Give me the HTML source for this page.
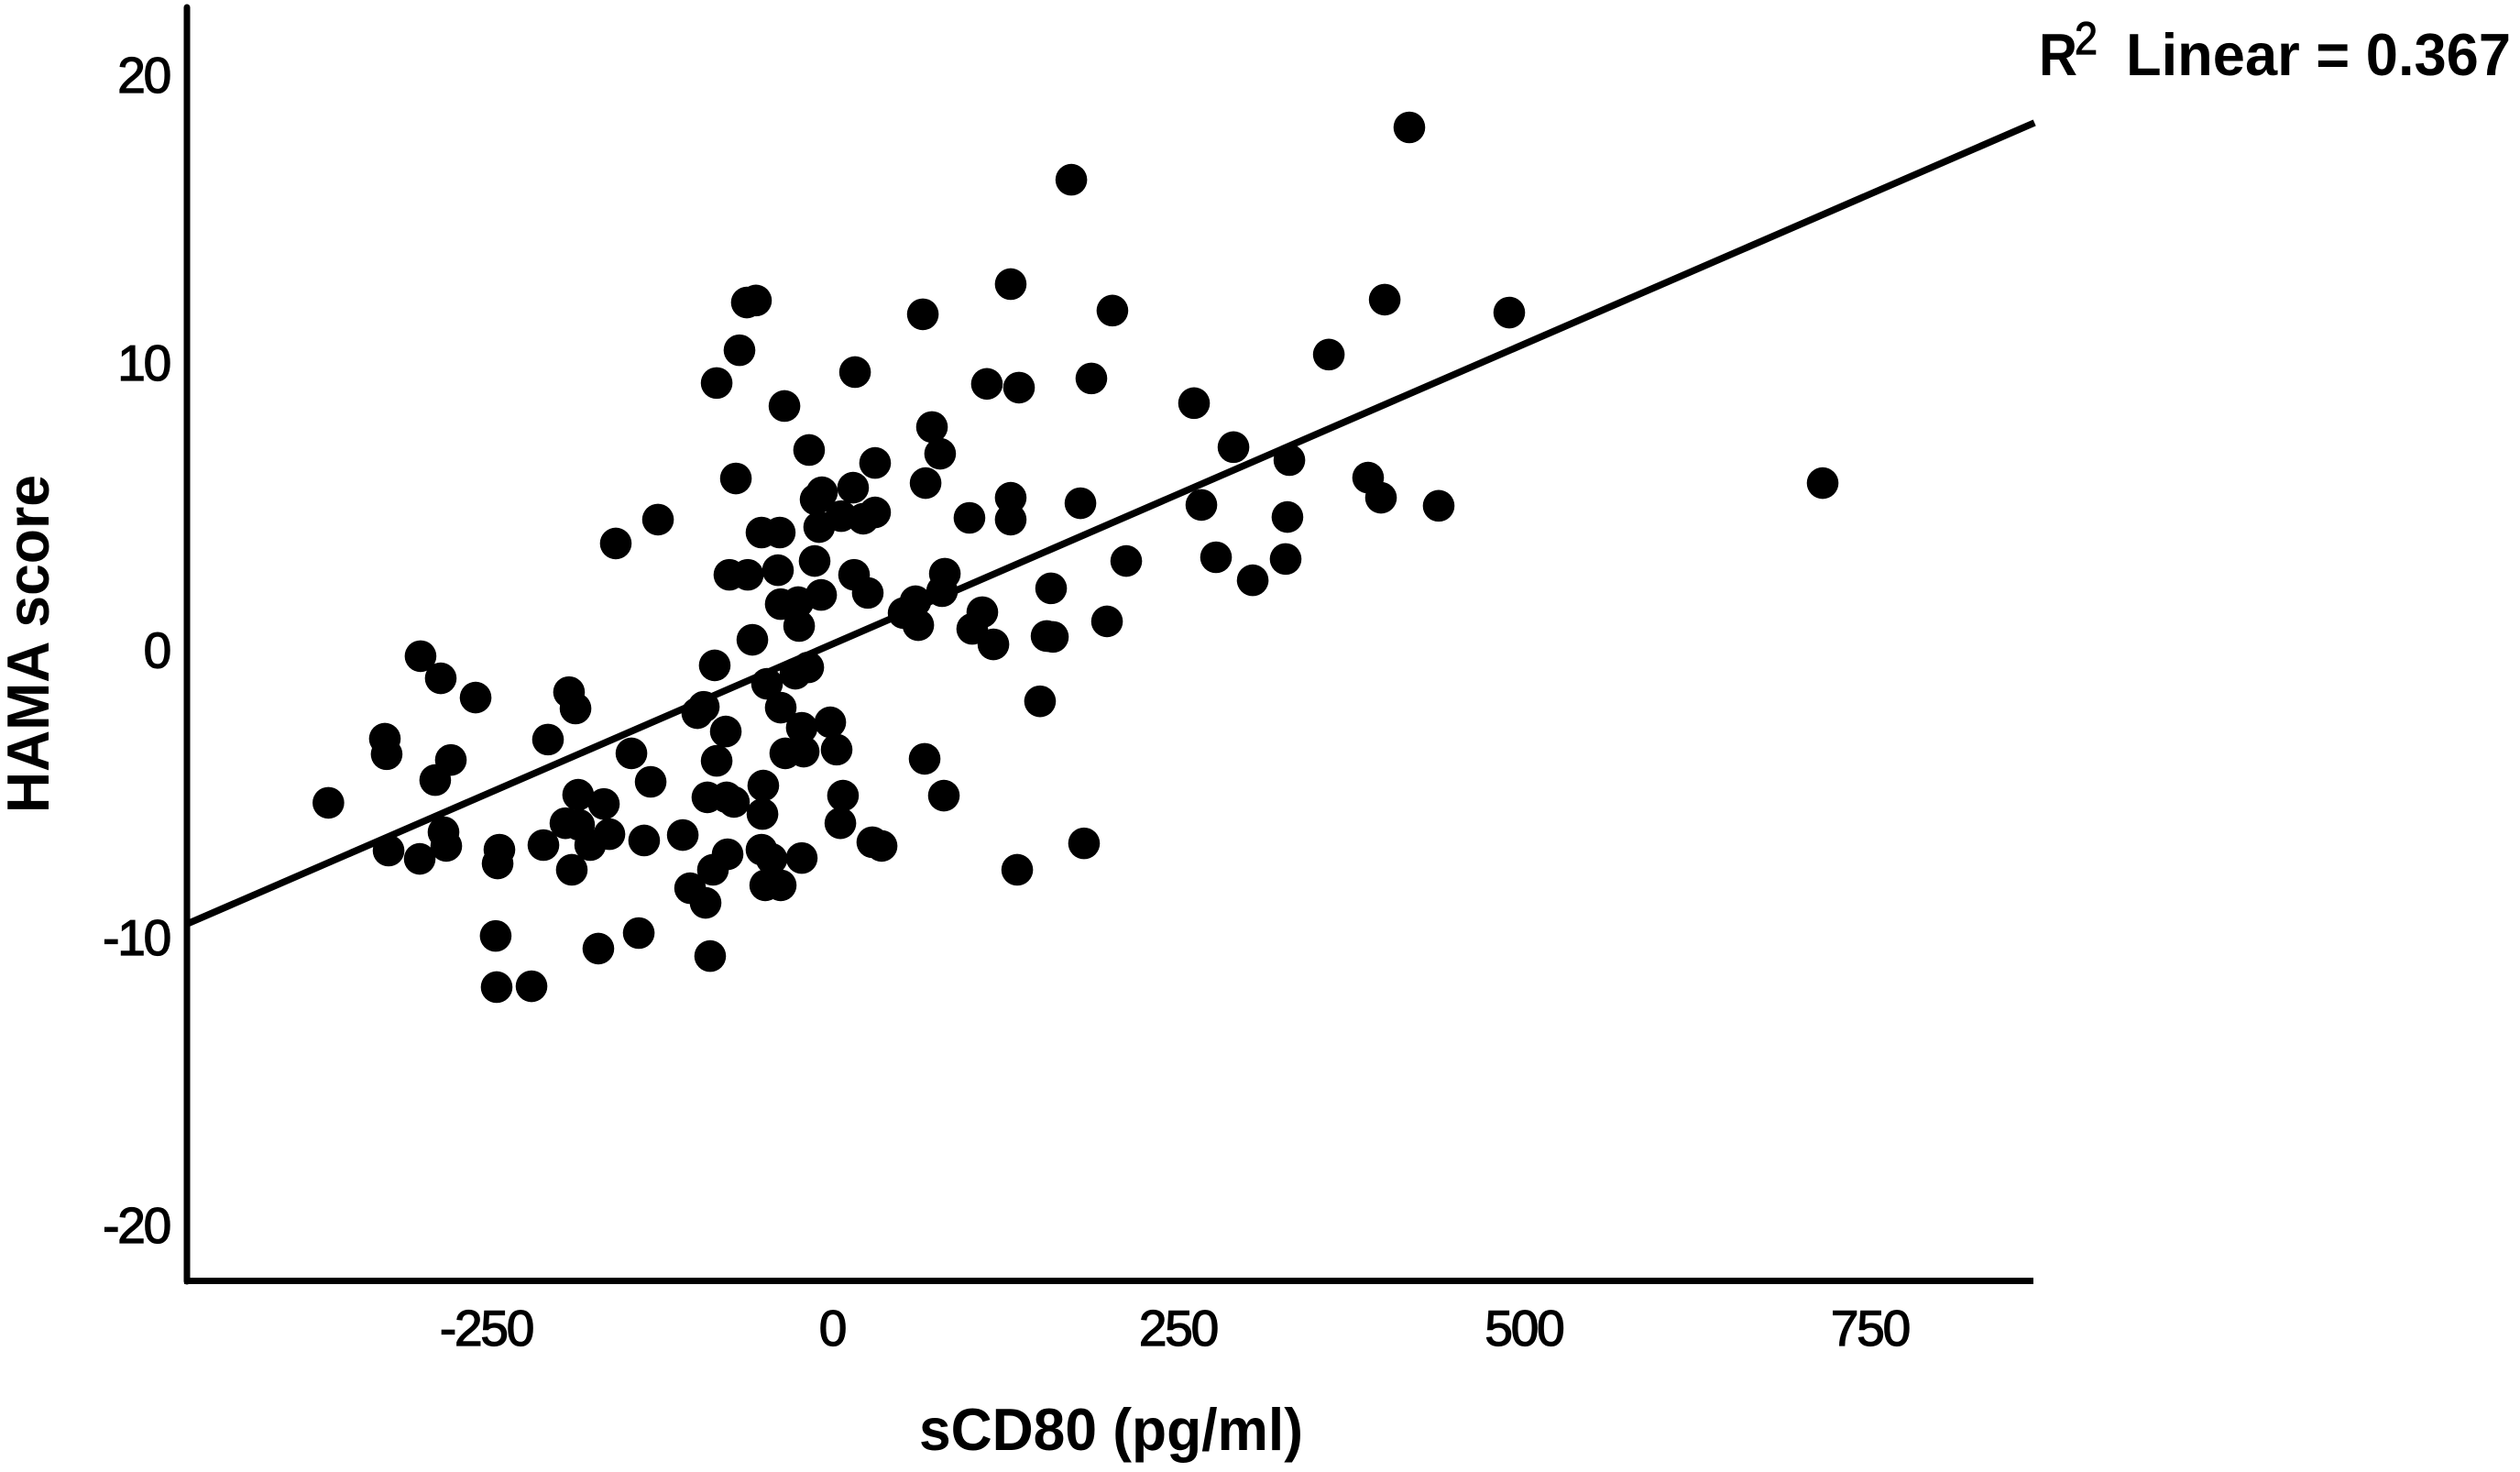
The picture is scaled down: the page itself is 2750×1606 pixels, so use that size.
<!DOCTYPE html>
<html lang="en">
<head>
<meta charset="utf-8">
<title>HAMA score vs sCD80</title>
<style>
html,body{margin:0;padding:0;background:#fff;width:2750px;height:1606px;overflow:hidden}
svg{display:block}
text{font-family:"Liberation Sans",Arial,sans-serif;fill:#000}
.tick{font-size:55px;letter-spacing:-2.2px;stroke:#000;stroke-width:1.3px}
.title{font-size:65px;font-weight:bold}
</style>
</head>
<body>
<svg id="chart" xmlns="http://www.w3.org/2000/svg" width="2750" height="1606" viewBox="0 0 2750 1606">
  <rect x="0" y="0" width="2750" height="1606" fill="#fff"/>
  <g id="points"></g>
  <line id="fit" stroke="#000" stroke-width="7.5"/>
  <line x1="204" y1="8" x2="204" y2="1398" stroke="#000" stroke-width="7" stroke-linecap="round"/>
  <line x1="201" y1="1397.5" x2="2219" y2="1397.5" stroke="#000" stroke-width="7"/>
  <g id="xticks"></g>
  <g id="yticks"></g>
  <text class="title" x="1003" y="1582" textLength="419" lengthAdjust="spacingAndGlyphs">sCD80 (pg/ml)</text>
  <text class="title" transform="translate(53 887) rotate(-90)" x="0" y="0" textLength="369" lengthAdjust="spacingAndGlyphs">HAMA score</text>
  <g>
    <text class="title" x="2225" y="82" textLength="42" lengthAdjust="spacingAndGlyphs">R</text>
    <text x="2264" y="59" style="font-size:50px;stroke:#000;stroke-width:1.2px" textLength="25" lengthAdjust="spacingAndGlyphs">2</text>
    <text class="title" x="2320" y="82" textLength="420" lengthAdjust="spacingAndGlyphs">Linear = 0.367</text>
  </g>
</svg>
<script>
const xTickValues = [-250, 0, 250, 500, 750];
const yTickValues = [20, 10, 0, -10, -20];
const fitX = [-466, 869];
const fitY = [-9.53, 18.33];
const sCD80 = [
-364,-323.2,-321.9,-320.5,-298,-297.4,-282.8,-280.8,-278.8,-286.8,
-275.5,-257.6,-240.4,-241.7,-243.1,-242.4,-217.2,-208.6,-205.3,-190.1,
-185.4,-192.7,-182.8,-183.5,-164.9,-160.9,-174.8,-188.1,-168.9,-139.7,
-145,-131.1,-135.8,-107.9,-102.6,-91.4,-88.1,-86.1,-75.5,-51,
-43.7,-21.9,-48.3,-37.1,-44.4,-90.1,-76.2,-70.9,-49.7,-50.3,
-83.4,-76.8,-92.7,-97.4,-47,-37.1,-26.5,-17.2,-21.9,-1.3,
3.3,-33.8,-20.5,7.9,6,29.1,35.8,66.9,80.8,133.8,
-84.8,-57.6,-23.8,-37.1,-24.5,-7.9,15.9,25.8,-74.2,-60.9,
-39.1,-12.6,-156.3,-125.8,-69.5,-51,-37.8,-9.3,6.6,22.5,
31.1,-11.9,-7.3,15.2,67.6,78.1,31.1,-16.6,-34.4,-83.4,
-66.9,-61.6,-55,16.6,65.6,72.2,99.3,129.1,129.1,179.5,
187.4,111.9,135.1,129.1,172.9,202.6,261.6,290.1,330.5,359,
399.4,489.4,417.2,387.4,396.7,438.4,266.9,329.1,212.6,277.5,
304,327.8,158.3,108.6,101.3,116.6,155,159.6,198.7,150.3,
81.5,79.5,60.3,51.7,62.3,715.9,182.1
];
const hamaScore = [
-5.32,-3.09,-3.63,-6.98,-7.27,-0.22,-0.99,-6.34,-6.82,-4.53,
-3.83,-1.66,-6.95,-7.43,-9.95,-11.73,-11.7,-6.79,-3.12,-1.47,
-2.04,-6.03,-6.09,-5.04,-5.36,-6.41,-6.79,-7.65,-10.39,-9.85,
-3.6,-4.59,-6.63,-6.44,-8.29,-8.8,-10.65,-7.65,-7.11,-6.95,
-7.27,-7.24,-8.19,-8.19,-8.13,-5.13,-5.13,-5.29,-4.72,-5.71,
-3.86,-2.84,-1.98,-2.2,-1.18,-2.01,-0.83,-0.61,-2.71,-2.52,
-3.47,-3.6,-3.54,-5.07,-6.03,-6.69,-6.82,-3.79,-5.07,-7.65,
-0.54,0.35,0.83,1.59,1.66,1.91,2.61,1.98,2.61,2.61,
2.77,3.09,3.7,4.53,5.96,4.08,4.08,4.27,4.65,4.56,
4.78,5.23,5.48,5.64,5.8,6.82,6.5,6.95,8.48,9.28,
10.42,12.08,12.15,9.66,11.67,7.75,4.59,5.29,4.53,5.1,
9.44,9.25,9.12,12.72,16.35,11.8,8.58,7.05,6.6,10.27,
12.18,11.73,18.17,5.99,5.29,5.01,5.04,4.62,3.09,3.22,
2.42,3.16,2.14,1.31,0.73,0.19,0.48,0.45,0.99,-1.79,
2.65,2.04,1.69,1.28,0.86,5.8,-6.73
];

const SVG_NS = 'http://www.w3.org/2000/svg';
function xScale(v) { return 908 + v * 1.51; }
function yScale(v) { return 709 - v * 31.37; }

const pointsGroup = document.getElementById('points');
sCD80.forEach(function (xv, i) {
  const dot = document.createElementNS(SVG_NS, 'circle');
  
  
  dot.setAttribute('cx', xScale(xv));
  dot.setAttribute('cy', yScale(hamaScore[i]));
  dot.setAttribute('r', 17.3);
  dot.setAttribute('fill', '#000');
  pointsGroup.appendChild(dot);
});

const fit = document.getElementById('fit');
fit.setAttribute('x1', xScale(fitX[0]));
fit.setAttribute('y1', yScale(fitY[0]));
fit.setAttribute('x2', xScale(fitX[1]));
fit.setAttribute('y2', yScale(fitY[1]));

const xTicksGroup = document.getElementById('xticks');
xTickValues.forEach(function (v) {
  const t = document.createElementNS(SVG_NS, 'text');
  
  
  t.setAttribute('class', 'tick');
  t.setAttribute('text-anchor', 'middle');
  t.setAttribute('x', xScale(v));
  t.setAttribute('y', 1468);
  t.textContent = String(v);
  xTicksGroup.appendChild(t);
});

const yTicksGroup = document.getElementById('yticks');
yTickValues.forEach(function (v) {
  const t = document.createElementNS(SVG_NS, 'text');
  
  
  t.setAttribute('class', 'tick');
  t.setAttribute('text-anchor', 'end');
  t.setAttribute('x', 185);
  t.setAttribute('y', yScale(v) + 19.5);
  t.textContent = String(v);
  yTicksGroup.appendChild(t);
});
</script>
</body>
</html>
